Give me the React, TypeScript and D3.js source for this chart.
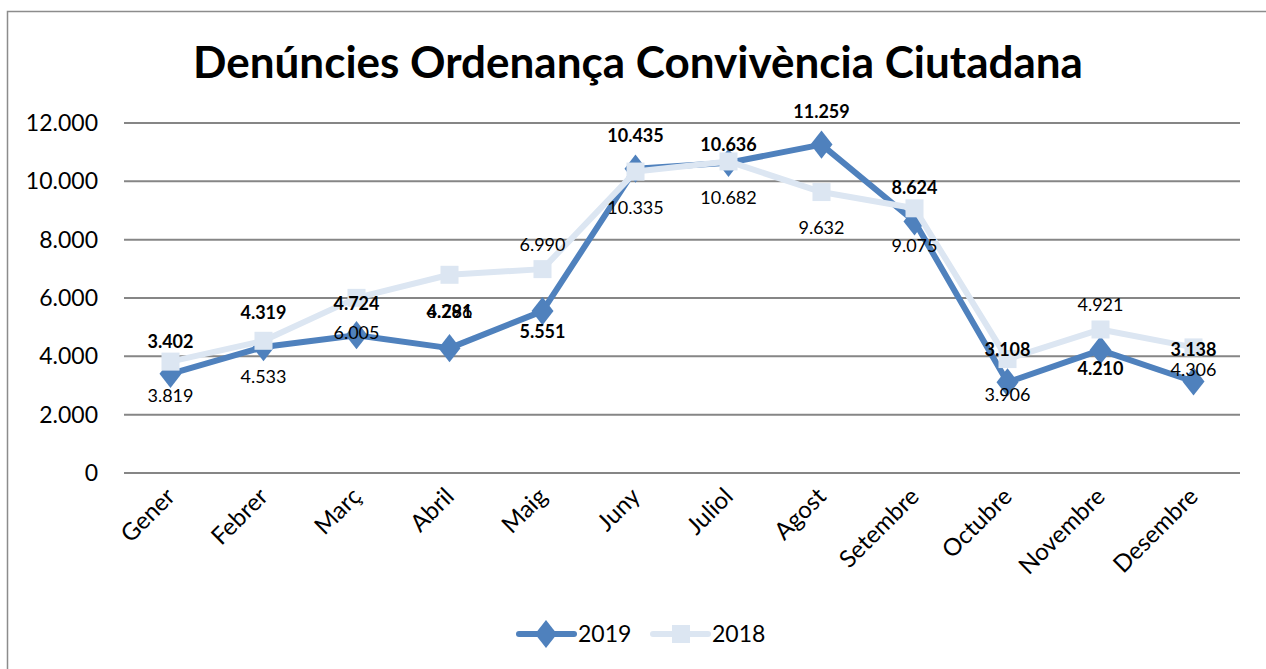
import React, { useRef, useEffect } from "react";
import * as d3 from "d3";

// chart data
const months = [
  "Gener", "Febrer", "Març", "Abril", "Maig", "Juny",
  "Juliol", "Agost", "Setembre", "Octubre", "Novembre", "Desembre",
];
const values2019 = [3402, 4319, 4724, 4281, 5551, 10435, 10636, 11259, 8624, 3108, 4210, 3138];
const values2018 = [3819, 4533, 6005, 6796, 6990, 10335, 10682, 9632, 9075, 3906, 4921, 4306];
const yTicks = [0, 2000, 4000, 6000, 8000, 10000, 12000];
const seriesNames = ["2019", "2018"];

// label offsets (px) from the marker, as placed in the original
const labelDy2019 = [-32, -34, -32, -36, 21, -33, -18, -33, -34, -33, 18, -32];
const labelDy2018 = [34, 36, 35, 37, -24, 36, 36, 36, 37, 36, -25, 22];

const W = 1266;
const H = 669;
const FONT = "Lato, 'Open Sans', sans-serif";
const BLUE = "#4f81bd";
const LIGHT = "#dce6f2";

const fmt = (v: number) => d3.format(",")(v).replace(/,/g, ".");

const App = () => {
  const ref = useRef<SVGSVGElement>(null);

  useEffect(() => {
    if (!ref.current) return;
    const svg = d3.select(ref.current);
    svg.selectAll("*").remove();

    const margin = { left: 124, right: 26, top: 123, bottom: 196 };
    const w = W - margin.left - margin.right;
    const h = H - margin.top - margin.bottom;

    // outer frame
    svg.append("rect")
      .attr("x", 7.5).attr("y", 11.5)
      .attr("width", W + 10).attr("height", H + 10)
      .attr("fill", "white").attr("stroke", "#8c8c8c").attr("stroke-width", 1.5);

    svg.append("text")
      .attr("x", 638).attr("y", 78)
      .attr("text-anchor", "middle")
      .style("font-family", FONT).style("font-weight", 700).style("font-size", "44px")
      .text("Denúncies Ordenança Convivència Ciutadana");

    const g = svg.append("g").attr("transform", `translate(${margin.left},${margin.top})`);

    const x = d3.scaleBand().domain(months).range([0, w]);
    const y = d3.scaleLinear().domain([0, 12000]).range([h, 0]);
    const cx = (m: string) => (x(m) as number) + x.bandwidth() / 2;

    // gridlines
    g.selectAll("line.grid").data(yTicks).enter().append("line")
      .attr("x1", 0).attr("x2", w)
      .attr("y1", (d) => y(d)).attr("y2", (d) => y(d))
      .attr("stroke", "#868686").attr("stroke-width", 2);

    // y labels
    g.selectAll("text.ytick").data(yTicks).enter().append("text")
      .attr("x", -26).attr("y", (d) => y(d)).attr("dy", "0.35em")
      .attr("text-anchor", "end")
      .style("font-family", FONT).style("font-size", "23px")
      .text((d) => fmt(d));

    // x labels rotated
    g.selectAll("text.xtick").data(months).enter().append("text")
      .attr("transform", (d) => `translate(${cx(d) + 6},${h + 25}) rotate(-45)`)
      .attr("text-anchor", "end")
      .style("font-family", FONT).style("font-size", "24px")
      .text((d) => d);

    const line = d3.line<number>()
      .x((_, i) => cx(months[i]))
      .y((d) => y(d));

    // 2019 series
    g.append("path").datum(values2019)
      .attr("d", line).attr("fill", "none")
      .attr("stroke", BLUE).attr("stroke-width", 6).attr("stroke-linejoin", "round");
    const diamond = d3.symbol().type(d3.symbolDiamond).size(230);
    g.selectAll("path.m19").data(values2019).enter().append("path")
      .attr("d", diamond)
      .attr("transform", (d, i) => `translate(${cx(months[i])},${y(d)}) scale(1.35,1)`)
      .attr("fill", BLUE);

    // 2018 series
    g.append("path").datum(values2018)
      .attr("d", line).attr("fill", "none")
      .attr("stroke", LIGHT).attr("stroke-width", 6).attr("stroke-linejoin", "round");
    g.selectAll("rect.m18").data(values2018).enter().append("rect")
      .attr("x", (d, i) => cx(months[i]) - 9).attr("y", (d) => y(d) - 9)
      .attr("width", 18).attr("height", 18)
      .attr("fill", LIGHT);

    // data labels
    g.selectAll("text.l19").data(values2019).enter().append("text")
      .attr("x", (d, i) => cx(months[i])).attr("y", (d, i) => y(d) + labelDy2019[i])
      .attr("dy", "0.35em").attr("text-anchor", "middle")
      .style("font-family", FONT).style("font-weight", 700).style("font-size", "18px")
      .text((d) => fmt(d));
    g.selectAll("text.l18").data(values2018).enter().append("text")
      .attr("x", (d, i) => cx(months[i])).attr("y", (d, i) => y(d) + labelDy2018[i])
      .attr("dy", "0.35em").attr("text-anchor", "middle")
      .style("font-family", FONT).style("font-size", "18px")
      .text((d) => fmt(d));

    // legend
    const lg = svg.append("g").attr("transform", "translate(519,634)");
    [0, 1].forEach((k) => {
      const ox = k * 134;
      const col = k === 0 ? BLUE : LIGHT;
      lg.append("line")
        .attr("x1", ox).attr("x2", ox + 55).attr("y1", 0).attr("y2", 0)
        .attr("stroke", col).attr("stroke-width", 6).attr("stroke-linecap", "round");
      if (k === 0) {
        lg.append("path").attr("d", diamond)
          .attr("transform", `translate(${ox + 27},0) scale(1.35,1)`).attr("fill", col);
      } else {
        lg.append("rect").attr("x", ox + 19).attr("y", -9)
          .attr("width", 18).attr("height", 18).attr("fill", col);
      }
      lg.append("text")
        .attr("x", ox + 59).attr("y", 0).attr("dy", "0.35em")
        .style("font-family", FONT).style("font-size", "23px")
        .text(seriesNames[k]);
    });
  }, []);

  return (
    <div style={{ position: "absolute", left: 0, top: 0, width: W, height: H }}>
      <svg ref={ref} width={W} height={H} />
    </div>
  );
};

export default App;
